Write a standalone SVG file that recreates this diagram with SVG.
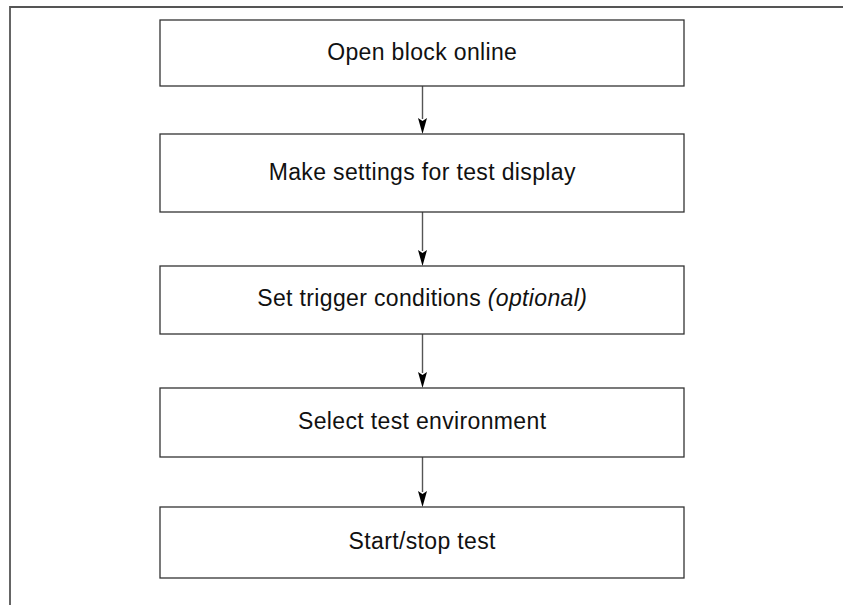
<svg xmlns="http://www.w3.org/2000/svg" width="843" height="605" viewBox="0 0 843 605">
  <style>
    .frame { fill: none; stroke: #555; stroke-width: 1.8; }
    .box { fill: #fff; stroke: #333; stroke-width: 1.3; }
    .label { font-family: "Liberation Sans", Arial, sans-serif; font-size: 23px; letter-spacing: 0.35px; fill: #111; text-anchor: middle; }
    .opt { font-style: italic; }
    .line { fill: none; stroke: #555; stroke-width: 1.4; }
    .head { fill: #000; }
  </style>
  <rect width="843" height="605" fill="#fff"/>

  <!-- page frame: top and left rules -->
  <g id="frame">
    <path class="frame" d="M10,605 L10,7 L843,7"/>
  </g>

  <g id="connectors">
    <path class="line" d="M422.5,86 L422.5,119"/>
    <path class="line" d="M422.5,212 L422.5,251"/>
    <path class="line" d="M422.5,334 L422.5,373"/>
    <path class="line" d="M422.5,457 L422.5,492"/>
    <path class="head" d="M418,118 L422.5,121 L427,118 L422.5,134 Z"/>
    <path class="head" d="M418,250 L422.5,253 L427,250 L422.5,266 Z"/>
    <path class="head" d="M418,372 L422.5,375 L427,372 L422.5,388 Z"/>
    <path class="head" d="M418,491 L422.5,494 L427,491 L422.5,507 Z"/>
  </g>

  <g id="open-block">
    <rect class="box" x="160" y="20" width="524" height="66"/>
    <text class="label" x="422.2" y="60">Open block online</text>
  </g>

  <g id="test-display">
    <rect class="box" x="160" y="134" width="524" height="78"/>
    <text class="label" x="422.2" y="180">Make settings for test display</text>
  </g>

  <g id="trigger">
    <rect class="box" x="160" y="266" width="524" height="68"/>
    <text class="label" x="422.2" y="306">Set trigger conditions <tspan class="opt">(optional)</tspan></text>
  </g>

  <g id="environment">
    <rect class="box" x="160" y="388" width="524" height="69"/>
    <text class="label" x="422.2" y="429">Select test environment</text>
  </g>

  <g id="start-stop">
    <rect class="box" x="160" y="507" width="524" height="71"/>
    <text class="label" x="422.2" y="549">Start/stop test</text>
  </g>
</svg>
